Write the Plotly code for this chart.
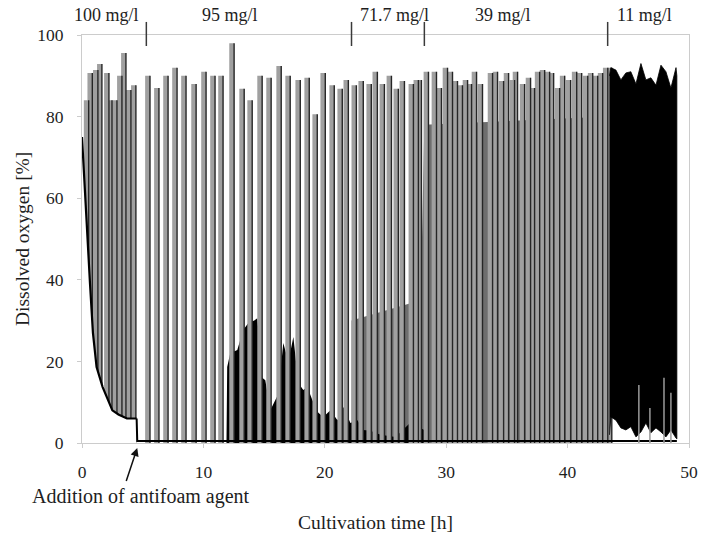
import plotly.graph_objects as go

# Feed pulses: start time (h) and peak dissolved oxygen (%)
pulse_time = [0.15, 0.45, 0.91, 1.24, 1.82, 2.07, 2.48, 2.89, 3.22, 3.63, 4.04,
              5.20, 5.94, 6.69, 7.43, 8.17, 9.00, 9.82, 10.56, 11.22, 12.13,
              12.96, 13.62, 14.44, 15.18, 16.01, 16.75, 17.58, 18.32, 18.98,
              19.64, 20.38, 21.04, 21.54, 22.20, 22.77, 23.43, 23.93, 24.51,
              25.09, 25.66, 26.16, 26.90, 27.31, 27.56, 28.14, 28.80, 29.21,
              29.71, 30.12, 30.53, 30.94, 31.36, 31.69, 32.10, 32.59, 33.42,
              33.83, 34.33, 34.74, 35.23, 35.48, 36.06, 36.55, 36.88, 37.30,
              37.71, 38.12, 38.45, 38.95, 39.36, 39.85, 40.35, 40.76, 41.26,
              41.67, 42.08, 42.49, 42.91, 43.24]
pulse_peak = [84, 90.7, 91.4, 92.9, 90.7, 84, 84, 90, 95.6, 86.5, 87.7,
              90, 87, 90, 92, 90, 88, 91, 90, 90, 98,
              86.8, 84, 90, 89.5, 92.4, 90, 89, 89.5, 80.6,
              90.7, 87.7, 86.8, 89, 87.7, 88.7, 88, 91, 88,
              90, 86.8, 88.7, 88, 89, 89, 91, 91, 87,
              92, 91, 88.7, 87.7, 89, 88, 91, 88, 90.7,
              91, 88.7, 90.7, 89, 91, 88, 89.5, 87, 91,
              91.4, 91, 90.7, 87, 90, 89, 91, 90.7, 90,
              90.7, 90, 90.7, 92, 92]
PULSE_W = 0.4

# Oxygen decline before the antifoam addition, then the floor afterwards
decline_time = [0, 0.25, 0.4, 0.66, 0.9, 1.2, 1.7, 2.5, 3.0, 3.7, 4.5]
decline_do = [75, 60, 51, 39, 27, 18.6, 13.7, 8, 7, 6, 6]
antifoam_time = 4.55
floor_do = 0.5
end_time = 49.0

# Low-oxygen fluctuation band between pulses (12-28 h)
band_time = [11.90, 11.96, 12.21, 12.79, 13.28, 13.70, 14.19, 14.44, 14.85,
             15.10, 15.51, 16.17, 16.58, 17.00, 17.41, 17.82, 18.23, 18.56,
             18.98, 19.47, 19.88, 20.46, 21.04, 21.53, 22.11, 22.69, 23.18,
             23.76, 24.59, 25.83, 27.06, 28.30]
band_top = [0, 18.6, 22, 22.8, 27.7, 29.4, 30, 30.6, 16,
            15.4, 8, 12, 24.5, 20, 26, 14.7, 13, 13.7,
            10.5, 7.4, 6.4, 8, 5.6, 8.8, 4.9, 5.6, 3.2,
            3, 2, 1.5, 5, 3]

# Overlapping decay tails of the faster pulses (22-43.5 h)
tail_time = [22.2, 27.9, 28.2, 43.4]
tail_top = [30, 35, 78, 80]

# Dense oscillation block at the lowest concentration (43.5-49 h)
block_time = [43.45, 43.56, 43.98, 44.39, 44.80, 45.21, 45.63, 46.04, 46.45,
              46.86, 47.28, 47.69, 48.10, 48.51, 48.93, 49.0]
block_upper = [90, 92, 91.4, 89, 90.7, 91, 88, 93, 89,
               89.5, 87.7, 92.6, 91, 87, 92, 90]
block_lower = [2, 6.4, 5.6, 3.7, 3.2, 4, 1.5, 2.7, 4.9,
               2.5, 3.7, 2.7, 1.5, 3.2, 1.2, 1]
dip_time = [45.87, 46.78, 47.94, 48.51]
dip_height = [14.2, 8.6, 16, 12.3]

# Feed concentration changes
switch_time = [5.3, 22.2, 28.2, 43.3]
conc_label = ["100 mg/l", "95 mg/l", "71.7 mg/l", "39 mg/l", "11 mg/l"]
conc_pos = [2.0, 12.2, 25.7, 34.7, 46.3]

FONT = "Liberation Serif"
INK = "#1e1e1e"
FRAME = "#cccccc"

fig = go.Figure()

# overlapping tails underneath the pulses
fig.add_trace(go.Scatter(x=tail_time + [tail_time[-1], tail_time[0]],
                         y=tail_top + [0, 0], mode="lines", fill="toself",
                         fillcolor="#6e6e6e", line=dict(width=0, color="#6e6e6e"),
                         hoverinfo="skip"))

# fluctuation band
fig.add_trace(go.Scatter(x=band_time + [band_time[-1]], y=band_top + [0],
                         mode="lines", fill="toself", fillcolor="#000000",
                         line=dict(width=0, color="#000000"), hoverinfo="skip"))

# pulses as filled bands with a dark falling edge
px, py, ex, ey = [], [], [], []
for t, p in zip(pulse_time, pulse_peak):
    px += [t, t, t + PULSE_W, t + PULSE_W, None]
    py += [0, p, p, 0, None]
    ex += [t + PULSE_W, t + PULSE_W, None]
    ey += [p, 0, None]
fig.add_trace(go.Scatter(x=px, y=py, mode="lines", fill="toself",
                         fillcolor="#a0a0a0", line=dict(width=0, color="#a0a0a0"),
                         hoverinfo="skip"))
fig.add_trace(go.Scatter(x=ex, y=ey, mode="lines",
                         line=dict(width=1.4, color="#262626"), hoverinfo="skip"))

# region under the initial decline stays clear
fig.add_trace(go.Scatter(x=decline_time, y=decline_do, mode="lines",
                         fill="tozeroy", fillcolor="#ffffff",
                         line=dict(width=2.2, color="#000000"), hoverinfo="skip"))
fig.add_trace(go.Scatter(x=[decline_time[-1], antifoam_time, end_time],
                         y=[decline_do[-1], floor_do, floor_do], mode="lines",
                         line=dict(width=2, color="#000000"), hoverinfo="skip"))

# dense block
fig.add_trace(go.Scatter(x=block_time + block_time[::-1],
                         y=block_upper + block_lower[::-1], mode="lines",
                         fill="toself", fillcolor="#000000",
                         line=dict(width=0.8, color="#000000"), hoverinfo="skip"))
dx, dy = [], []
for t, h in zip(dip_time, dip_height):
    dx += [t, t, None]
    dy += [0, h, None]
fig.add_trace(go.Scatter(x=dx, y=dy, mode="lines",
                         line=dict(width=1.5, color="#9a9a9a"), hoverinfo="skip"))

for t in switch_time:
    fig.add_shape(type="line", x0=t, x1=t, xref="x", yref="paper",
                  y0=0.973, y1=1.032, line=dict(color="#3a3a3a", width=1.5))

annotations = []
for lab, pos in zip(conc_label, conc_pos):
    annotations.append(dict(x=pos, xref="x", y=1.049, yref="paper", text=lab,
                            showarrow=False, yanchor="middle",
                            font=dict(family=FONT, size=18, color=INK)))
annotations.append(dict(x=antifoam_time, y=-0.012, xref="x", yref="paper",
                        text=" ", font=dict(size=2),
                        showarrow=True, ax=-12, ay=36, arrowhead=2,
                        arrowsize=1.1, arrowwidth=1.5, arrowcolor="#111111",
                        standoff=0))
annotations.append(dict(x=4.87, xref="x", y=-0.132, yref="paper",
                        text="Addition of antifoam agent", showarrow=False,
                        yanchor="middle",
                        font=dict(family=FONT, size=20, color=INK)))
annotations.append(dict(x=0.483, xref="paper", y=-0.196, yref="paper",
                        text="Cultivation time [h]", showarrow=False,
                        yanchor="middle",
                        font=dict(family=FONT, size=19.5, color=INK)))
annotations.append(dict(x=-0.0988, xref="paper", y=0.5, yref="paper",
                        text="Dissolved oxygen [%]", showarrow=False,
                        textangle=-90, xanchor="center", yanchor="middle",
                        font=dict(family=FONT, size=19.5, color=INK)))

axis_common = dict(showgrid=False, zeroline=False, showline=True, mirror=True,
                   linecolor=FRAME, linewidth=1, ticks="outside", ticklen=4,
                   tickcolor=FRAME, tickfont=dict(family=FONT, size=17.5, color=INK))

fig.update_layout(
    width=712, height=536,
    margin=dict(l=82, r=23, t=35, b=93),
    paper_bgcolor="#ffffff", plot_bgcolor="#ffffff",
    showlegend=False,
    xaxis=dict(range=[0, 50], tickvals=[0, 10, 20, 30, 40, 50],
               ticklabelstandoff=9, **axis_common),
    yaxis=dict(range=[0, 100], tickvals=[0, 20, 40, 60, 80, 100],
               ticklabelstandoff=10, **axis_common),
    annotations=annotations,
)

fig.write_html("out.html")
